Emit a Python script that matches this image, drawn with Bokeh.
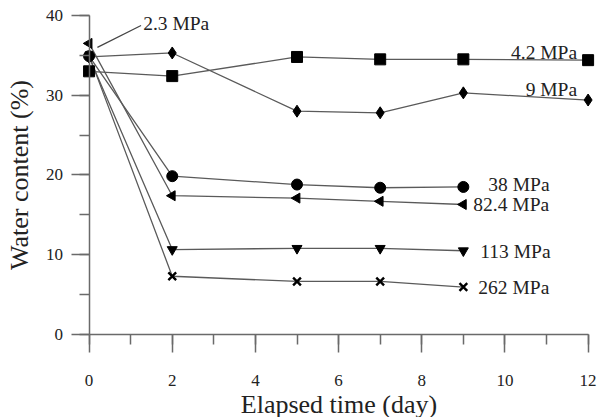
import math
from bokeh.plotting import figure
from bokeh.models import SingleIntervalTicker, Range1d, LinearAxis
from bokeh.core.properties import value
from bokeh.embed import file_html
from bokeh.resources import INLINE

# ---- data ----
days_long = [0, 2, 5, 7, 9, 12]
days_short = [0, 2, 5, 7, 9]
w_4_2 = [33.0, 32.4, 34.8, 34.5, 34.5, 34.4]
w_9 = [34.8, 35.3, 28.0, 27.8, 30.3, 29.4]
w_38 = [34.9, 19.85, 18.8, 18.4, 18.5]
w_82_4 = [36.5, 17.4, 17.1, 16.7, 16.3]
w_113 = [34.8, 10.65, 10.8, 10.8, 10.5]
w_262 = [35.0, 7.3, 6.65, 6.65, 5.95]
labels = ["4.2 MPa", "9 MPa", "38 MPa", "82.4 MPa", "113 MPa", "262 MPa"]
initial_label = "2.3 MPa"
x_ticks_interval = 2
y_ticks_interval = 10

SERIF = "Liberation Serif"
LINE_COLOR = "#5a5a5a"
AXIS_COLOR = "#6a6a6a"

# frame covers the whole canvas so that axes drawn at fixed locations are not clipped
p = figure(width=598, height=417, output_backend="svg", toolbar_location=None,
           x_range=Range1d(-2.13, 12.25), y_range=Range1d(-10.41, 41.88),
           frame_width=598, frame_height=417,
           min_border_left=0, min_border_right=0, min_border_top=0, min_border_bottom=0)
p.xaxis.visible = False
p.yaxis.visible = False
p.grid.visible = False
p.outline_line_color = None

xax = LinearAxis(ticker=SingleIntervalTicker(interval=x_ticks_interval, num_minor_ticks=2),
                 bounds=(0, 12), fixed_location=0)
yax = LinearAxis(ticker=SingleIntervalTicker(interval=y_ticks_interval, num_minor_ticks=2),
                 bounds=(0, 40), fixed_location=0)
for ax in (xax, yax):
    ax.axis_line_color = AXIS_COLOR
    ax.axis_line_width = 1.5
    ax.major_tick_line_color = AXIS_COLOR
    ax.minor_tick_line_color = AXIS_COLOR
    ax.major_tick_line_width = 1.5
    ax.minor_tick_line_width = 1.5
    ax.major_tick_in = 0
    ax.minor_tick_in = 0
    ax.major_tick_out = 18
    ax.minor_tick_out = 10
    ax.major_label_text_font = SERIF
    ax.major_label_text_font_size = "17px"
    ax.major_label_text_color = "#222222"
    ax.axis_label_text_font = SERIF
    ax.axis_label_text_font_size = "26px"
    ax.axis_label_text_font_style = "normal"
    ax.axis_label_text_color = "#222222"
xax.axis_label = "Elapsed time (day)"
xax.major_label_standoff = 23
xax.axis_label_standoff = 0
yax.axis_label = "Water content (%)"
yax.major_label_standoff = 8
yax.axis_label_standoff = 10
p.add_layout(xax, "below")
p.add_layout(yax, "left")

series = [
    (days_long, w_4_2, "square", 11, 0.0),
    (days_long, w_9, "diamond", 12, 0.0),
    (days_short, w_38, "circle", 11, 0.0),
    (days_short, w_82_4, "triangle", 10, math.pi / 2),
    (days_short, w_113, "inverted_triangle", 10, 0.0),
    (days_short, w_262, "x", 11, 0.0),
]
for xs, ys, marker, size, ang in series:
    p.line(xs, ys, line_color=LINE_COLOR, line_width=1.3)
for xs, ys, marker, size, ang in series:
    if marker == "x":
        p.scatter(xs, ys, marker="x", size=size, line_color="black", line_width=2.4)
    else:
        p.scatter(xs, ys, marker=marker, size=size, angle=ang,
                  fill_color="black", line_color="black")

# labels anchored at last point of each series (pixel offsets; +y is down)
offsets = [(-11, -8, "right"), (-11, -11, "right"), (25, -2, "left"),
           (10, 0, "left"), (17, 1, "left"), (15, 0, "left")]
for (xs, ys, *_), lab, (dx, dy, al) in zip(series, labels, offsets):
    p.text([xs[-1]], [ys[-1]], text=[lab], x_offset=dx, y_offset=dy,
           text_align=al, text_baseline="middle",
           text_font=value(SERIF), text_font_size="19.5px", text_color="#222222")

# 2.3 MPa leader from initial point
x0, y0 = days_short[0], w_82_4[0]
p.segment(x0=[x0 + 0.2], y0=[y0 - 0.5], x1=[x0 + 1.25], y1=[y0 + 2.25],
          line_color="#444444", line_width=1.2)
p.text([x0 + 1.3], [y0 + 2.45], text=[initial_label], text_align="left",
       text_baseline="middle", text_font=value(SERIF), text_font_size="19.5px",
       text_color="#222222")

open("out.html", "w").write(file_html(p, INLINE))
